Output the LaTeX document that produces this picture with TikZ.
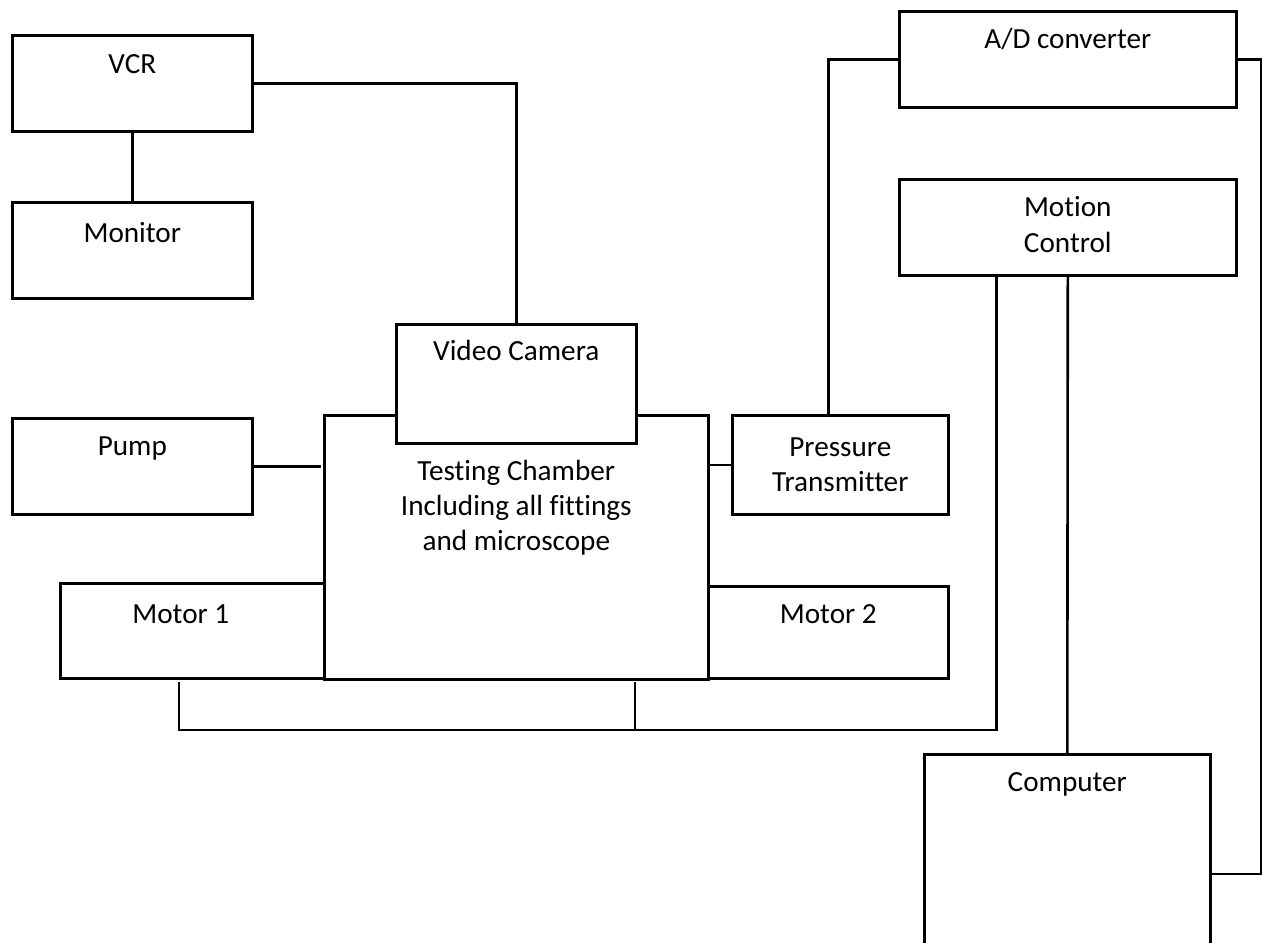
\documentclass[tikz,border=0pt]{standalone}
\usepackage{fontspec}
\setmainfont[Ligatures=NoCommon]{Carlito}
\begin{document}
\begin{tikzpicture}[x=1pt,y=-1pt,
  box/.style={draw=black, line width=2.6pt, fill=white, inner sep=0pt, anchor=north west},
  lbl/.style={inner sep=0pt, anchor=base, font=\fontsize{29.2}{35}\selectfont},
  wire/.style={draw=black, line width=2.6pt}]
\useasboundingbox[fill=white] (0,0) rectangle (1262,943);

% boxes
\node[box, minimum width=240pt, minimum height=96pt] (vcr) at (11,34) {};
\node[box, minimum width=240pt, minimum height=96pt] (monitor) at (11,201) {};
\node[box, minimum width=337pt, minimum height=96pt] (ad) at (898,10) {};
\node[box, minimum width=337pt, minimum height=96pt] (mc) at (898,178) {};
\node[box, minimum width=384pt, minimum height=264pt] (chamber) at (323,414) {};
\node[box, minimum width=240pt, minimum height=119pt] (cam) at (395,323) {};
\node[box, minimum width=240pt, minimum height=96pt] (pump) at (11,417) {};
\node[box, minimum width=216pt, minimum height=99pt] (pt) at (731,414) {};
\node[box, minimum width=264pt, minimum height=95pt] (m1) at (59,582) {};
\node[box, minimum width=240pt, minimum height=92pt] (m2) at (707,585) {};
\node[box, minimum width=286pt, minimum height=200pt] (comp) at (923,753) {};

% labels
\node[lbl] (vcrT) at ([yshift=-39pt]vcr.north) {VCR};
\node[lbl] (monT) at ([yshift=-41pt]monitor.north) {Monitor};
\node[lbl] (adT) at ([yshift=-38pt]ad.north) {A/D converter};
\node[lbl] (mcT1) at ([yshift=-38pt]mc.north) {Motion};
\node[lbl] (mcT2) at ([yshift=-74pt]mc.north) {Control};
\node[lbl] (camT) at ([yshift=-37pt]cam.north) {Video Camera};
\node[lbl] (chT1) at ([yshift=-66pt]chamber.north) {Testing Chamber};
\node[lbl] (chT2) at ([yshift=-101pt]chamber.north) {Including all fittings};
\node[lbl] (chT3) at ([yshift=-136pt]chamber.north) {and microscope};
\node[lbl] (pumpT) at ([yshift=-38pt]pump.north) {Pump};
\node[lbl] (ptT1) at ([yshift=-42pt]pt.north) {Pressure};
\node[lbl] (ptT2) at ([yshift=-77pt]pt.north) {Transmitter};
\node[lbl] (m1T) at ([xshift=-11.5pt,yshift=-41pt]m1.north) {Motor 1};
\node[lbl] (m2T) at ([yshift=-38pt]m2.north) {Motor 2};
\node[lbl] (compT) at ([yshift=-38pt]comp.north) {Computer};

% free-end coordinates
\coordinate (rt) at (1261,874);
\coordinate (busL) at (179,730);
\coordinate (m1s) at (179,682);
\coordinate (m2s) at (635,682);

% connectors
\draw[wire] (vcr.south) -- (monitor.north);
\draw[wire] (vcr.east) -| (cam.north);
\draw[wire] (pump.east) -- ([xshift=-2pt]chamber.west |- pump.east);
\draw[wire] (pt.west) -- ([xshift=-2pt]chamber.east |- pt.west);
\draw[wire] (ad.west) -| ([xshift=-12pt]pt.north);
\draw[wire] (ad.east) -| (rt) -- (comp.east |- rt);
\draw[wire] (mc.south) -- (comp.north);
\draw[wire] ([xshift=-71.5pt]mc.south) |- (busL) -- (m1s);
\draw[wire] (m2s) -- (m2s |- busL);
\end{tikzpicture}
\end{document}
